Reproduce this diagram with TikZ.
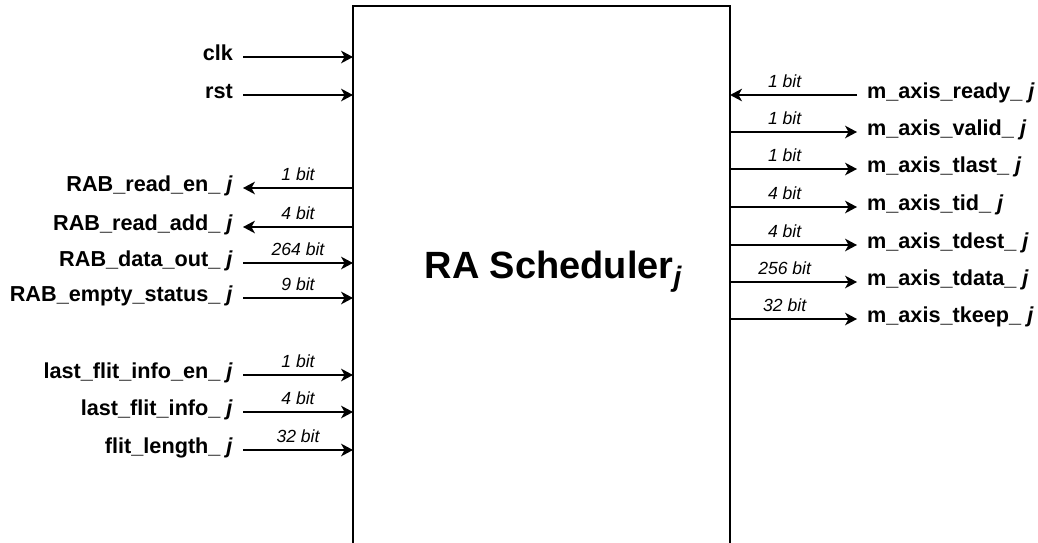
\documentclass[tikz,border=0pt]{standalone}
\usepackage{fontspec}
\setmainfont{Liberation Sans}
\usetikzlibrary{arrows.meta}

\newcommand{\jj}{\textit{j}}
\tikzset{
  sig/.style={line width=1pt,-{Stealth[length=8.5pt,width=9pt,inset=2.5pt]}},
  inlbl/.style={anchor=mid east,inner xsep=7pt,inner ysep=0pt,font=\fontsize{15.4}{18}\selectfont\bfseries},
  outlbl/.style={anchor=mid west,inner xsep=7pt,inner ysep=0pt,font=\fontsize{15.4}{18}\selectfont\bfseries},
  bits/.style={above=4.5pt,inner sep=0pt,font=\fontsize{12.5}{15}\selectfont\itshape}
}

\begin{document}
\begin{tikzpicture}[x=0.025cm,y=-0.025cm,>=Stealth]
  \clip (0,0) rectangle (1038,542);
  \node[draw,line width=1pt,outer sep=0pt,inner sep=0pt,minimum width=9.425cm,
        minimum height=14.5cm,anchor=north west] (sched) at (353,6) {};
  \node[anchor=base,font=\fontsize{27}{30}\selectfont\bfseries] (title) at (553,278)
       {RA Scheduler\raisebox{-0.22em}{\fontsize{20}{20}\selectfont\itshape j}};

  \node[inlbl] (clk) at (243,57) {clk};
  \node[inlbl] (rst) at (243,95) {rst};
  \node[inlbl] (rre) at (243,188) {RAB\_read\_en\_ \jj};
  \node[inlbl] (rra) at (243,227) {RAB\_read\_add\_ \jj};
  \node[inlbl] (rdo) at (243,263) {RAB\_data\_out\_ \jj};
  \node[inlbl] (res) at (243,298) {RAB\_empty\_status\_ \jj};
  \node[inlbl] (lfe) at (243,375) {last\_flit\_info\_en\_ \jj};
  \node[inlbl] (lfi) at (243,412) {last\_flit\_info\_ \jj};
  \node[inlbl] (fln) at (243,450) {flit\_length\_ \jj};

  \node[outlbl] (mrdy) at (857,95) {m\_axis\_ready\_ \jj};
  \node[outlbl] (mvld) at (857,132) {m\_axis\_valid\_ \jj};
  \node[outlbl] (mlst) at (857,169) {m\_axis\_tlast\_ \jj};
  \node[outlbl] (mtid) at (857,207) {m\_axis\_tid\_ \jj};
  \node[outlbl] (mdst) at (857,245) {m\_axis\_tdest\_ \jj};
  \node[outlbl] (mdat) at (857,282) {m\_axis\_tdata\_ \jj};
  \node[outlbl] (mkep) at (857,319) {m\_axis\_tkeep\_ \jj};

  \draw[sig] (clk.mid east) -- (clk.mid east -| sched.west);
  \draw[sig] (rst.mid east) -- (rst.mid east -| sched.west);
  \draw[sig] (rre.mid east -| sched.west) -- (rre.mid east) node[bits,midway] {1 bit};
  \draw[sig] (rra.mid east -| sched.west) -- (rra.mid east) node[bits,midway] {4 bit};
  \draw[sig] (rdo.mid east) -- (rdo.mid east -| sched.west) node[bits,midway] {264 bit};
  \draw[sig] (res.mid east) -- (res.mid east -| sched.west) node[bits,midway] {9 bit};
  \draw[sig] (lfe.mid east) -- (lfe.mid east -| sched.west) node[bits,midway] {1 bit};
  \draw[sig] (lfi.mid east) -- (lfi.mid east -| sched.west) node[bits,midway] {4 bit};
  \draw[sig] (fln.mid east) -- (fln.mid east -| sched.west) node[bits,midway] {32 bit};

  \draw[sig] (mrdy.mid west) -- (mrdy.mid west -| sched.east) node[bits,pos=0.57] {1 bit};
  \draw[sig] (mvld.mid west -| sched.east) -- (mvld.mid west) node[bits,pos=0.43] {1 bit};
  \draw[sig] (mlst.mid west -| sched.east) -- (mlst.mid west) node[bits,pos=0.43] {1 bit};
  \draw[sig] (mtid.mid west -| sched.east) -- (mtid.mid west) node[bits,pos=0.43] {4 bit};
  \draw[sig] (mdst.mid west -| sched.east) -- (mdst.mid west) node[bits,pos=0.43] {4 bit};
  \draw[sig] (mdat.mid west -| sched.east) -- (mdat.mid west) node[bits,pos=0.43] {256 bit};
  \draw[sig] (mkep.mid west -| sched.east) -- (mkep.mid west) node[bits,pos=0.43] {32 bit};
\end{tikzpicture}
\end{document}
